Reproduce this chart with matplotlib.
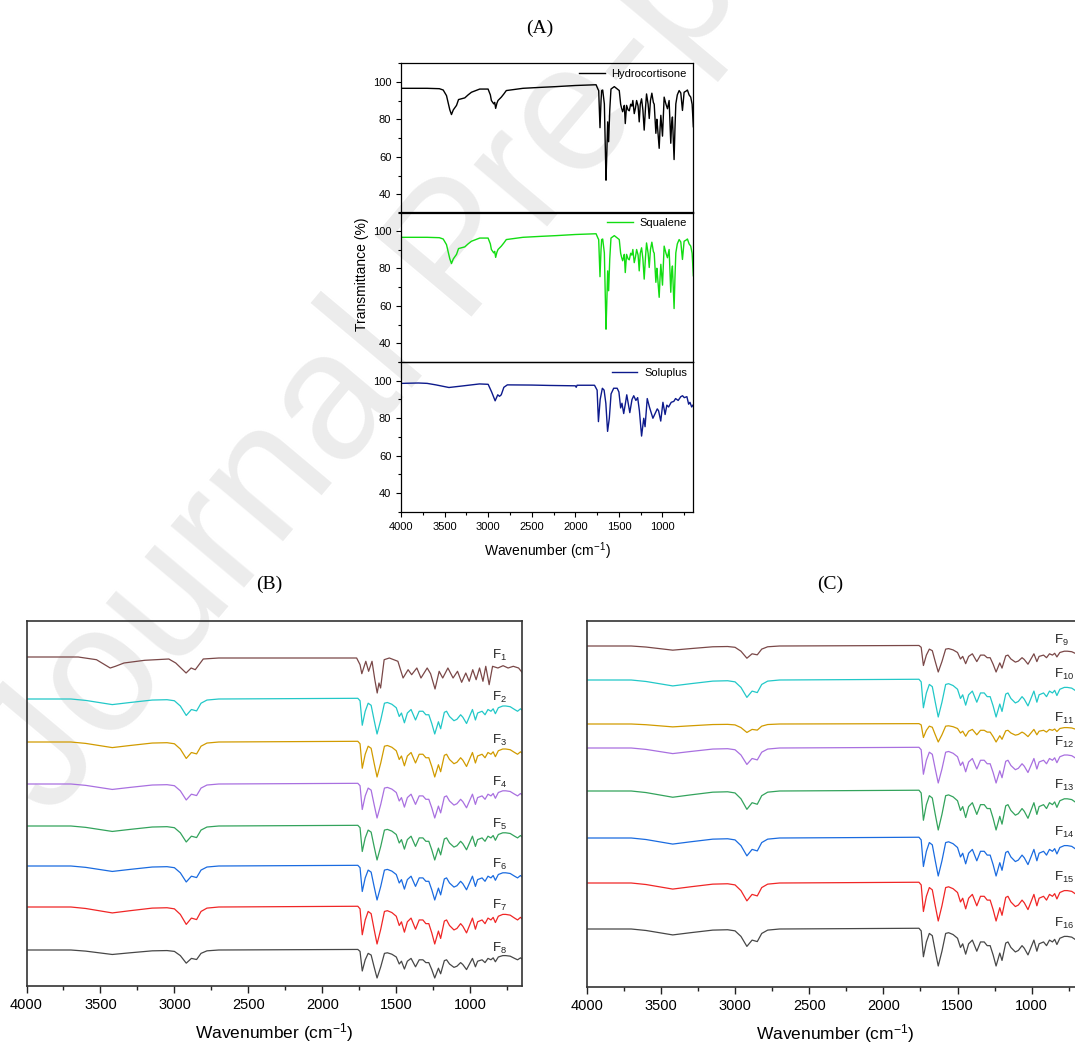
import numpy as np
import matplotlib.pyplot as plt
from matplotlib.ticker import MultipleLocator

plt.rcParams['font.family'] = ['Liberation Sans', 'DejaVu Sans']
plt.rcParams['mathtext.default'] = 'regular'

# ---- panel A: spectra (wavenumber in cm-1, transmittance in %)
hydro_wn = [4000, 3700, 3560, 3516, 3478, 3440, 3421, 3400, 3363, 3340, 3300, 3268, 3230, 3192,
            3097, 3001, 2975, 2963, 2936, 2925, 2914, 2900, 2887, 2849, 2820, 2792, 2601, 2400,
            2220, 2000, 1762, 1740, 1732, 1717, 1705, 1698, 1686, 1667, 1648, 1640, 1629, 1618,
            1605, 1591, 1553, 1496, 1480, 1470, 1457, 1445, 1438, 1427, 1412, 1395, 1381, 1365,
            1351, 1340, 1324, 1310, 1297, 1280, 1267, 1255, 1240, 1225, 1210, 1195, 1183, 1165,
            1152, 1138, 1122, 1105, 1095, 1076, 1065, 1057, 1038, 1028, 1019, 1000, 990, 981,
            960, 943, 924, 905, 895, 886, 867, 857, 847, 830, 809, 790, 771, 752, 730, 714, 695,
            676, 660, 646]
hydro_t = [96.5, 96.5, 96.3, 95.6, 92.6, 85, 82.5, 85, 87.4, 90.5, 91, 91.4, 93, 94.4,
           96.1, 96.1, 93, 90, 88.2, 89, 85.8, 88.5, 90, 91.8, 93.5, 95.3, 96.5, 97,
           97.4, 98, 98.4, 96, 95.3, 75.5, 90, 95.3, 95.6, 88.2, 47.5, 60, 78.6, 68,
           85, 96.1, 97.4, 95.3, 88, 86, 84, 86, 87.4, 77.7, 87.4, 85, 84.5, 88,
           87, 90, 83, 86, 90, 87, 78.6, 88, 90.9, 85, 74.2, 86, 93.5, 88,
           80.4, 90, 93.9, 89, 88, 72.5, 80, 76, 64.5, 75, 82.1, 71, 82, 91.8,
           88, 85.6, 90, 67.2, 78, 81.2, 58.5, 75, 88.2, 93, 95.3, 94, 84.7, 94.4, 95, 95.6, 93,
           91.8, 88, 76]
# the green squalene trace repeats the hydrocortisone one in the figure
squalene_wn = list(hydro_wn)
squalene_t = list(hydro_t)
soluplus_wn = [4000, 3800, 3700, 3600, 3450, 3300, 3100, 3000, 2960, 2920, 2890, 2870, 2850, 2820,
               2780, 2500, 2300, 2000, 1990, 1980, 1780, 1750, 1735, 1715, 1690, 1670, 1650, 1630,
               1610, 1590, 1560, 1520, 1500, 1480, 1465, 1445, 1425, 1410, 1375, 1350, 1330, 1305,
               1285, 1265, 1240, 1215, 1200, 1175, 1150, 1110, 1090, 1060, 1045, 1020, 995, 970,
               950, 930, 900, 870, 850, 820, 790, 770, 750, 720, 700, 685, 665, 650]
soluplus_t = [98.6, 98.8, 98.6, 97.8, 96.4, 97.2, 98.3, 98.1, 94, 89.3, 92.5, 91.7, 92.5, 96.5,
              97.8, 97.7, 97.5, 97.3, 96.5, 97.6, 97.6, 95, 78.2, 90, 96, 95, 88, 73,
              80, 93, 96, 96, 94, 85.5, 88, 82.5, 88, 92.5, 83, 90, 92, 89.5,
              91, 84, 70.5, 80, 75.5, 90.5, 86, 80, 82, 85, 84, 78.5, 88.5, 82,
              87, 86, 88.5, 89, 90.5, 89.5, 91.5, 92, 91, 91.5, 87.5, 88.5, 86, 87]

# ---- panels B and C: stacked formulation spectra
# shared band profile, dip depth relative to the 1630 cm-1 band
form_wn = [4000, 3700, 3600, 3420, 3300, 3150, 3050, 3000, 2960, 2920, 2885, 2850, 2820, 2780,
           2700, 1760, 1745, 1730, 1710, 1690, 1670, 1650, 1630, 1605, 1580, 1560, 1530, 1500,
           1480, 1465, 1445, 1425, 1400, 1370, 1345, 1320, 1300, 1280, 1260, 1240, 1215, 1200,
           1175, 1160, 1140, 1110, 1090, 1065, 1050, 1025, 1000, 985, 965, 950, 920, 900, 880,
           860, 845, 830, 810, 780, 760, 730, 700, 680, 660, 650]
form_dip = [0, 0, 0.04, 0.16, 0.1, 0.03, 0.02, 0.05, 0.2, 0.47, 0.3, 0.34, 0.12, 0.03,
            0, -0.02, 0.05, 0.75, 0.35, 0.12, 0.18, 0.6, 1.0, 0.6, 0.12, 0.1, 0.15, 0.25,
            0.5, 0.4, 0.68, 0.4, 0.3, 0.6, 0.35, 0.35, 0.45, 0.45, 0.7, 1.0, 0.65, 0.85,
            0.38, 0.35, 0.5, 0.62, 0.58, 0.45, 0.52, 0.7, 0.45, 0.3, 0.6, 0.4, 0.35, 0.45, 0.3,
            0.35, 0.28, 0.42, 0.25, 0.2, 0.2, 0.22, 0.3, 0.35, 0.28, 0.32]
# F1 has its own profile (dip depth in plot units)
f1_wn = [4000, 3650, 3527, 3434, 3399, 3341, 3201, 3038, 2991, 2921, 2887, 2859, 2805, 2700,
         1768, 1745, 1733, 1706, 1687, 1664, 1645, 1629, 1617, 1606, 1582, 1547, 1489, 1454,
         1420, 1396, 1361, 1333, 1291, 1268, 1238, 1210, 1186, 1151, 1116, 1086, 1058, 1030,
         1007, 983, 960, 937, 914, 895, 872, 849, 813, 778, 744, 709, 673, 650]
f1_dip = [0, 0, 2.7, 11, 9.3, 6, 3.3, 2, 6, 16, 11, 12.7, 2, 1,
          1, 7.7, 16.7, 4.3, 14.3, 4.3, 22.7, 36, 26, 31, 2.7, 1, 4.3, 21,
          12.7, 17.7, 11, 21, 11, 16.7, 32, 14.3, 21, 11, 21, 14.3, 25.3, 16,
          24.3, 12.7, 22.7, 11, 24.3, 9.3, 27.7, 9.3, 11, 8.7, 11, 9.3, 11, 15.3]

labels_b = ['F$_{1}$', 'F$_{2}$', 'F$_{3}$', 'F$_{4}$', 'F$_{5}$', 'F$_{6}$', 'F$_{7}$', 'F$_{8}$']
base_b = [329, 287, 244, 202, 160, 120, 79, 36]
scale_b = [1, 35, 35, 34, 34, 34, 37, 28]
labels_c = ['F$_{9}$', 'F$_{10}$', 'F$_{11}$', 'F$_{12}$', 'F$_{13}$', 'F$_{14}$', 'F$_{15}$', 'F$_{16}$']
base_c = [341, 307, 263, 239, 196, 149, 104, 58]
scale_c = [26, 37, 18, 35, 39, 38, 38, 37]

trace_colors = ['#7a4848', '#22c8c8', '#d19b00', '#a970e0', '#33a35c', '#1a6be0', '#f02626', '#474747']

W, H = 1075, 1044
fig = plt.figure(figsize=(W / 100, H / 100), dpi=100)

# watermark behind everything
fig.text(462 / W, 1 - 255 / H, 'Journal Pre-proof', rotation=50, fontsize=130, color='#ececec',
         ha='center', va='center', rotation_mode='anchor', zorder=-10)


def fpos(x0, y0, x1, y1):
    # pixel box -> figure fraction
    return [x0 / W, 1 - y1 / H, (x1 - x0) / W, (y1 - y0) / H]


# ---- panel A
specs = [(hydro_wn, hydro_t, 'black', 'Hydrocortisone'),
         (squalene_wn, squalene_t, '#12dd12', 'Squalene'),
         (soluplus_wn, soluplus_t, '#0d1a8c', 'Soluplus')]
tops = [63, 212, 362]
for k, (wn, t, col, name) in enumerate(specs):
    ax = fig.add_axes(fpos(401, tops[k], 693, tops[k] + 150))
    ax.set_facecolor('none')
    ax.plot(wn, t, color=col, lw=1.0, label=name)
    ax.set_xlim(4000, 650)
    ax.set_ylim(30, 110)
    ax.yaxis.set_minor_locator(MultipleLocator(10))
    ax.set_yticks([40, 60, 80, 100])
    ax.xaxis.set_major_locator(MultipleLocator(500))
    ax.xaxis.set_minor_locator(MultipleLocator(250))
    ax.tick_params(axis='both', which='both', direction='out', labelsize=8, width=0.8)
    ax.tick_params(which='major', length=3.5)
    ax.tick_params(which='minor', length=2)
    if k < 2:
        ax.tick_params(axis='x', which='both', bottom=False, labelbottom=False)
    for s in ax.spines.values():
        s.set_linewidth(0.9)
    ax.legend(loc='upper right', frameon=False, fontsize=8, handlelength=2.3,
              handletextpad=0.6, borderaxespad=0.15)
    if k == 2:
        ax.set_xlabel('Wavenumber (cm$^{-1}$)', fontsize=10, labelpad=6)

fig.text(362 / W, 1 - 274 / H, 'Transmittance (%)', rotation=90, fontsize=10,
         ha='center', va='center')


# ---- panels B and C
def stacked(box, labels, bases, scales, first_own, lab_x, lab_dy, ymax):
    ax = fig.add_axes(fpos(*box))
    ax.set_facecolor('none')
    for i in range(len(labels)):
        if first_own and i == 0:
            wn, dip = f1_wn, f1_dip
        else:
            wn, dip = form_wn, form_dip
        y = bases[i] - scales[i] * np.asarray(dip, dtype=float)
        ax.plot(wn, y, color=trace_colors[i], lw=0.9)
        ax.text(lab_x, bases[i] + lab_dy, labels[i], fontsize=9.5, ha='left', va='center',
                color='#222222')
    ax.set_xlim(4000, 650)
    ax.set_ylim(0, ymax)
    ax.set_yticks([])
    ax.xaxis.set_major_locator(MultipleLocator(500))
    ax.xaxis.set_minor_locator(MultipleLocator(250))
    ax.tick_params(axis='x', which='both', direction='out', labelsize=10.5, width=1.0,
                   colors='#222222', labelcolor='black')
    ax.tick_params(axis='x', which='major', length=5)
    ax.tick_params(axis='x', which='minor', length=3)
    for s in ax.spines.values():
        s.set_linewidth(1.2)
        s.set_color('#333333')
    ax.set_xlabel('Wavenumber (cm$^{-1}$)', fontsize=12.5, labelpad=7)
    return ax


stacked((26.5, 621, 522, 986), labels_b, base_b, scale_b, True, 855, 2, 365)
stacked((586.7, 621, 1083.6, 987), labels_c, base_c, scale_c, False, 848, 6, 366)

fig.text(540 / W, 1 - 28 / H, '(A)', family='Liberation Serif', fontsize=14, ha='center', va='center')
fig.text(269 / W, 1 - 584 / H, '(B)', family='Liberation Serif', fontsize=14, ha='center', va='center')
fig.text(830 / W, 1 - 584 / H, '(C)', family='Liberation Serif', fontsize=14, ha='center', va='center')

fig.savefig('out.png', dpi=100)
